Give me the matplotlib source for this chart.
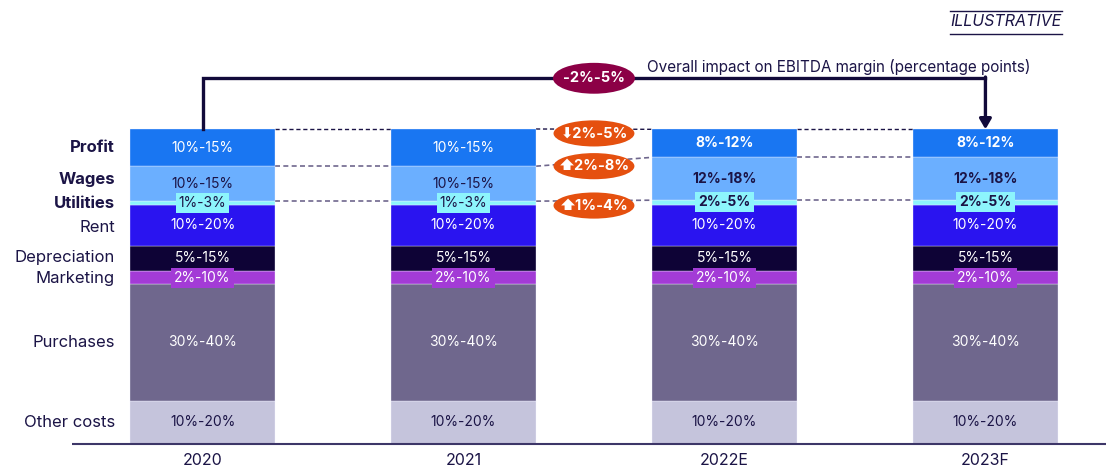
import numpy as np
import matplotlib
matplotlib.use('Agg')
import matplotlib.pyplot as plt
from matplotlib.patches import Ellipse
from matplotlib.lines import Line2D

plt.rcParams['font.family'] = ['Inter', 'DejaVu Sans']

DARK = '#1b1446'

years = ['2020', '2021', '2022E', '2023F']
forecast = [False, False, True, True]

# segments bottom -> top, heights as share of revenue (illustrative)
segments = ['Other costs', 'Purchases', 'Marketing', 'Depreciation', 'Rent', 'Utilities', 'Wages', 'Profit']
other_costs = [13.8, 13.8, 13.8, 13.8]
purchases = [37.0, 37.0, 37.0, 37.0]
marketing = [4.0, 4.0, 4.0, 4.0]
depreciation = [8.2, 8.2, 8.2, 8.2]
rent = [13.0, 13.0, 13.0, 13.0]
utilities = [1.1, 1.1, 1.4, 1.4]
wages = [11.1, 11.1, 13.6, 13.6]
profit = [11.8, 11.8, 8.9, 8.9]

other_lbl = ['10%-20%', '10%-20%', '10%-20%', '10%-20%']
purchases_lbl = ['30%-40%', '30%-40%', '30%-40%', '30%-40%']
marketing_lbl = ['2%-10%', '2%-10%', '2%-10%', '2%-10%']
depreciation_lbl = ['5%-15%', '5%-15%', '5%-15%', '5%-15%']
rent_lbl = ['10%-20%', '10%-20%', '10%-20%', '10%-20%']
utilities_lbl = ['1%-3%', '1%-3%', '2%-5%', '2%-5%']
wages_lbl = ['10%-15%', '10%-15%', '12%-18%', '12%-18%']
profit_lbl = ['10%-15%', '10%-15%', '8%-12%', '8%-12%']

changes = ['\u2b072%-5%', '\u2b062%-8%', '\u2b061%-4%']
overall_change = '-2%-5%'

values = [other_costs, purchases, marketing, depreciation, rent, utilities, wages, profit]
labels = [other_lbl, purchases_lbl, marketing_lbl, depreciation_lbl, rent_lbl,
          utilities_lbl, wages_lbl, profit_lbl]
colors = ['#c5c4dc', '#6f678d', '#a33bd6', '#0e0336', '#2a14f0', '#8df4fc', '#6bafff', '#1976f2']
text_colors = [DARK, 'white', 'white', 'white', 'white', DARK, DARK, 'white']
label_boxes = [None, None, '#a33bd6', None, None, '#8df4fc', None, None]
bold_forecast = [False, False, False, False, False, True, True, True]
bold_names = [False, False, False, False, False, True, True, True]
name_nudge = [0, 0, -0.3, 0.4, -0.8, -0.3, 1.2, 0]

fig = plt.figure(figsize=(11.06, 4.66), dpi=100)
ax = fig.add_axes([0, 0, 1, 1])
ax.set_xlim(-0.776, 3.462)
ax.set_ylim(-6.98, 140.95)
ax.axis('off')

x = np.arange(len(years))
w = 0.556

bottoms = np.zeros(len(years))
seg_bottoms = []
for i, seg in enumerate(segments):
    h = np.array(values[i])
    ax.bar(x, h, bottom=bottoms, width=w, color=colors[i], edgecolor='#f4f4ff',
           linewidth=0.25, zorder=2)
    seg_bottoms.append(bottoms.copy())
    for j in range(len(years)):
        yc = bottoms[j] + h[j] / 2
        fw = 'bold' if (bold_forecast[i] and forecast[j]) else 'normal'
        bbox = None
        if label_boxes[i]:
            bbox = dict(boxstyle='square,pad=0.22', facecolor=label_boxes[i], edgecolor='none')
        ax.text(x[j], yc, labels[i][j], ha='center', va='center', fontsize=10,
                color=text_colors[i], fontweight=fw, bbox=bbox, zorder=4)
    # category name on the left, next to the first bar
    ax.text(-w / 2 - 0.057, bottoms[0] + h[0] / 2 + name_nudge[i], seg, ha='right',
            va='center', fontsize=12, color=DARK,
            fontweight='bold' if bold_names[i] else 'normal')
    bottoms = bottoms + h

totals = bottoms
wages_top = np.array(seg_bottoms[7])
util_top = np.array(seg_bottoms[6])
rent_top = np.array(seg_bottoms[5])

# dashed connectors between bars
for j in range(len(years) - 1):
    x0, x1 = x[j] + w / 2, x[j + 1] - w / 2
    ax.plot([x0, x1], [totals[j], totals[j + 1]], ls=(0, (3, 2)), lw=1, color=DARK, zorder=1)
    ax.plot([x0, x1], [wages_top[j], wages_top[j + 1]], ls=(0, (3, 2)), lw=1.2, color='#6f678d', zorder=1)
    ax.plot([x0, x1], [util_top[j], util_top[j + 1]], ls=(0, (3, 2)), lw=1.2, color='#6f678d', zorder=1)

# change bubbles between 2021 and 2022E
xm = (x[1] + x[2]) / 2
bubble_y = [totals[1] - 1.4, wages_top[1], rent_top[1] - 0.3]
for txt, yb in zip(changes, bubble_y):
    ax.add_patch(Ellipse((xm, yb), 0.31, 8.3, facecolor='#e5500f', edgecolor='none', zorder=5))
    ax.text(xm, yb, txt, ha='center', va='center', fontsize=10.5, color='white',
            fontweight='bold', zorder=6)

# overall EBITDA connector from 2020 to 2023F
yc = totals[0] + 16.1
ax.plot([x[0], x[0], x[3]], [totals[0], yc, yc], color='#120a3a', lw=2.4, zorder=3,
        solid_joinstyle='miter')
ax.annotate('', xy=(x[3], totals[3]), xytext=(x[3], yc + 0.4),
            arrowprops=dict(arrowstyle='-|>,head_width=0.35,head_length=0.6',
                            color='#120a3a', lw=2.4, shrinkA=0, shrinkB=0), zorder=3)
ax.add_patch(Ellipse((xm, yc), 0.314, 9.8, facecolor='#8c0046', edgecolor='none', zorder=5))
ax.text(xm, yc, overall_change, ha='center', va='center', fontsize=10.5, color='white',
        fontweight='bold', zorder=6)
ax.text(1.703, yc + 3.6, 'Overall impact on EBITDA margin (percentage points)',
        ha='left', va='center', fontsize=11, color=DARK)

# baseline and year labels
ax.hlines(0, -0.5, 3.462, color='#3d3668', lw=1.5, zorder=3)
for j, yr in enumerate(years):
    ax.text(x[j], -5.1, yr, ha='center', va='center', fontsize=11.5, color=DARK)

# ILLUSTRATIVE tag
fig.text(1006 / 1106, 1 - 21 / 466, 'ILLUSTRATIVE', ha='center', va='center',
         fontsize=11.5, style='italic', color=DARK)
for yy in (11, 34):
    fig.add_artist(Line2D([950 / 1106, 1062 / 1106], [1 - yy / 466, 1 - yy / 466],
                          transform=fig.transFigure, color=DARK, lw=1))

fig.savefig('out.png', dpi=100)
